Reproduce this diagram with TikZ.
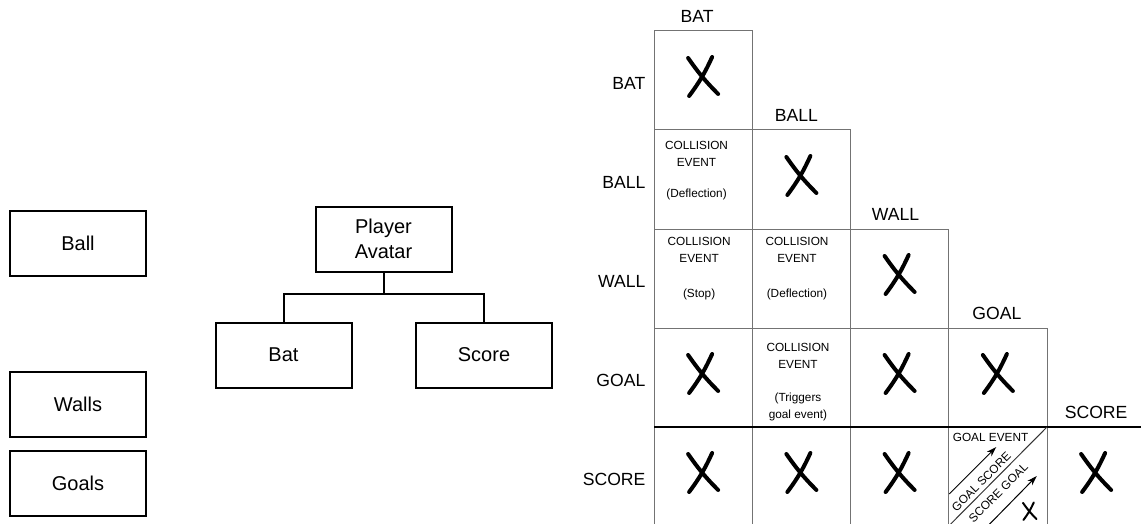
\documentclass[tikz,border=0pt]{standalone}
\usepackage{fontspec}
\setmainfont{Liberation Sans}
\usetikzlibrary{positioning,arrows.meta}

\definecolor{gridgray}{gray}{0.45}
\newcommand{\boxfont}{\fontsize{10}{12.5}\selectfont}
\newcommand{\headfont}{\fontsize{8.8}{10.5}\selectfont}
\newcommand{\cellfont}{\fontsize{5.9}{8.5}\selectfont}

\begin{document}
\begin{tikzpicture}[x=0.5pt,y=-0.5pt,>={Stealth[length=5pt,width=3.2pt]},
                    node distance=49.5pt and 49.125pt,semithick]
  \tikzstyle{box}=[draw,line width=1pt,minimum width=68pt,minimum height=32.5pt,
                   inner sep=0pt,outer sep=0pt,align=center,font=\boxfont]
  \tikzstyle{cell}=[draw=gridgray,line width=0.5pt,minimum width=49.125pt,
                    minimum height=49.5pt,inner sep=0pt,outer sep=0pt,on grid]
  \tikzstyle{head}=[inner sep=0pt,font=\headfont]
  \tikzstyle{event}=[inner sep=0pt,align=center,font=\cellfont]
  \tikzstyle{xstroke}=[line width=2pt,line cap=round]
  \tikzset{cross/.pic={
      \draw[xstroke] (-7.5pt,11.25pt) to[bend right=5] (7.5pt,-6.75pt)
                     (4.5pt,11.75pt) to[bend left=6] (-7pt,-7.75pt);}}

  \useasboundingbox (0,0) rectangle (1141,524);

  \node[box] (ball)               at (78,243.5)     {Ball};
  \node[box] (walls) [below=48pt of ball]           {Walls};
  \node[box] (goals) [below=7pt of walls]           {Goals};

  \node[box] (avatar)             at (383.5,239)    {Player\\Avatar};
  \node[box,on grid] (bat)   [below left=58pt and 50pt of avatar]     {Bat};
  \node[box,on grid] (score) [below right=58pt and 50.25pt of avatar] {Score};
  \draw[line width=1pt] (avatar.south) -- ++(0,22) -| (bat.north);
  \draw[line width=1pt] (avatar.south) -- ++(0,22) -| (score.north);

  \node[cell] (batbat)              at (703.125,80.5) {};
  \node[cell] (ballbat)   [below=of batbat]     {};
  \node[cell] (ballball)  [right=of ballbat]    {};
  \node[cell] (wallbat)   [below=of ballbat]    {};
  \node[cell] (wallball)  [right=of wallbat]    {};
  \node[cell] (wallwall)  [right=of wallball]   {};
  \node[cell] (goalbat)   [below=of wallbat]    {};
  \node[cell] (goalball)  [right=of goalbat]    {};
  \node[cell] (goalwall)  [right=of goalball]   {};
  \node[cell] (goalgoal)  [right=of goalwall]   {};
  \node[cell] (scorebat)  [below=of goalbat]    {};
  \node[cell] (scoreball) [right=of scorebat]   {};
  \node[cell] (scorewall) [right=of scoreball]  {};
  \node[cell] (scoregoal) [right=of scorewall]  {};
  \node[cell,draw=none] (scorescore) [right=of scoregoal] {};

  \coordinate (rim) at (1141,427);
  \draw[line width=0.6pt] (scorebat.north west) -- (rim);

  \node[head,above=4pt of batbat.north,xshift=-3pt]       (colbat)   {BAT};
  \node[head,above=4pt of ballball.north,xshift=-2.5pt]   (colball)  {BALL};
  \node[head,above=4pt of wallwall.north,xshift=-2pt]     (colwall)  {WALL};
  \node[head,above=4pt of goalgoal.north,xshift=-0.5pt]   (colgoal)  {GOAL};
  \node[head,above=4pt of scorescore.north]               (colscore) {SCORE};

  \node[head,left=4pt of batbat.west,yshift=-1.25pt]    (rowbat)   {BAT};
  \node[head,left=4pt of ballbat.west,yshift=-1.25pt]   (rowball)  {BALL};
  \node[head,left=4pt of wallbat.west,yshift=-1.25pt]   (rowwall)  {WALL};
  \node[head,left=4pt of goalbat.west,yshift=-1.25pt]   (rowgoal)  {GOAL};
  \node[head,left=4pt of scorebat.west,yshift=-1.25pt]  (rowscore) {SCORE};

  \node[event,below=5.25pt of ballbat.north,xshift=-3.3pt] (evballbat)
       {COLLISION\\EVENT\\[7pt](Deflection)};
  \node[event,below=3.75pt of wallbat.north,xshift=-2pt] (evwallbat)
       {COLLISION\\EVENT\\[9pt](Stop)};
  \node[event,below=3.75pt of wallball.north,xshift=-2.2pt] (evwallball)
       {COLLISION\\EVENT\\[9pt](Deflection)};
  \node[event,below=7.25pt of goalball.north,xshift=-1.7pt] (evgoalball)
       {COLLISION\\EVENT\\[8pt](Triggers\\goal event)};

  \pic at (batbat)     {cross};
  \pic at (ballball)   {cross};
  \pic at (wallwall)   {cross};
  \pic at (goalbat)    {cross};
  \pic at (goalwall)   {cross};
  \pic at (goalgoal)   {cross};
  \pic at (scorebat)   {cross};
  \pic at (scoreball)  {cross};
  \pic at (scorewall)  {cross};
  \pic at (scorescore) {cross};

  \coordinate (gsa) at ([shift={(0.5,67)}]scoregoal.north west);
  \coordinate (gsb) at ([shift={(47.5,20)}]scoregoal.north west);
  \coordinate (gsc) at ([shift={(38,100)}]scoregoal.north west);
  \coordinate (gsd) at ([shift={(88,49)}]scoregoal.north west);
  \draw[black!80,line width=0.5pt] (scoregoal.north east) -- (scoregoal.south west);
  \draw[->,line width=0.5pt] (gsa) -- (gsb);
  \draw[->,line width=0.5pt] (gsc) -- (gsd);
  \node[event,anchor=north west] (goalevent)
       at ([shift={(3.5,5.5)}]scoregoal.north west) {GOAL EVENT};
  \node[event,rotate=45] (goalfirst)
       at ([shift={(32.5,55)}]scoregoal.north west) {GOAL SCORE};
  \node[event,rotate=45] (scorefirst)
       at ([shift={(49.5,66)}]scoregoal.north west) {SCORE GOAL};
  \pic[scale=0.45,xstroke/.append style={line width=1pt}]
       at ([shift={(81,86)}]scoregoal.north west) {cross};
\end{tikzpicture}
\end{document}
